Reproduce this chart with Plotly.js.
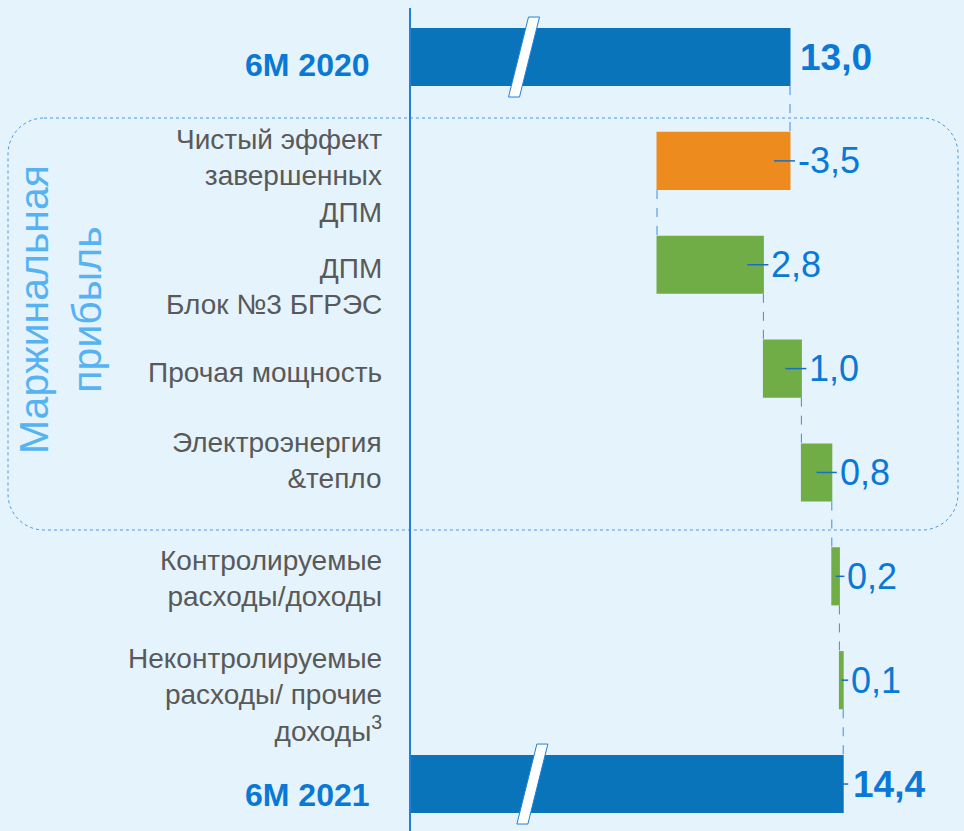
<!DOCTYPE html>
<html>
<head>
<meta charset="utf-8">
<script src="https://cdn.plot.ly/plotly-3.0.1.min.js"></script>
<style>html,body{margin:0;padding:0;background:#E5F3FC;}#chart{width:964px;height:831px;}</style>
</head>
<body>
<div id="chart"></div>
<script>
// ---- data ----
const categories = [
  '6M 2020',
  'Чистый эффект<br>завершенных<br>ДПМ',
  'ДПМ<br>Блок №3 БГРЭС',
  'Прочая мощность',
  'Электроэнергия<br>&тепло',
  'Контролируемые<br>расходы/доходы',
  'Неконтролируемые<br>расходы/ прочие<br>доходы<sup>3</sup>',
  '6M 2021'
];
const values = [13.0, -3.5, 2.8, 1.0, 0.8, 0.2, 0.1, 14.4];
const measures = ['absolute','relative','relative','relative','relative','relative','relative','total'];
const groupTitle = 'Маржинальная<br>прибыль';

// ---- layout constants ----
const W = 964, H = 831, L = 410;
const pxPerUnit = 38, x0 = 3.0;
const xMax = x0 + (W - L) / pxPerUnit;
const rowPx = 103.86, topIdx = -0.549;
const yMax = topIdx + H / rowPx;
const px2u = p => p / pxPerUnit;
const paperX = p => (p - L) / (W - L);
const paperY = p => 1 - p / H;

const C_TOTAL = '#0A74BB', C_UP = '#70AD47', C_DOWN = '#ED8B1E';
const C_BLUE = '#0A78D6', C_GREY = '#595959', C_LINE = '#1E80DC';
const FONT = '"Liberation Sans", Arial, sans-serif';

const ypos = categories.map((c, i) => i);

// running totals for labels
let cum = 0;
const rightEdge = [], leftEdge = [];
values.forEach((v, i) => {
  if (measures[i] === 'absolute') { cum = v; rightEdge.push(v); leftEdge.push(0); }
  else if (measures[i] === 'total') { rightEdge.push(cum); leftEdge.push(0); }
  else { const s = cum; cum = cum + v; rightEdge.push(Math.max(s, cum)); leftEdge.push(Math.min(s, cum)); }
});

const trace = {
  type: 'waterfall',
  orientation: 'h',
  y: ypos,
  x: values,
  measure: measures,
  width: 0.56,
  textinfo: 'none',
  hoverinfo: 'skip',
  increasing: {marker: {color: C_UP}},
  decreasing: {marker: {color: C_DOWN}},
  totals: {marker: {color: C_TOTAL}},
  connector: {mode: 'between', line: {color: '#3A8EE0', width: 1, dash: 'dash'}}
};

const labelShift = [8, 15, 22, 4, -12, 2, 15, 11];
const annotations = [];
const shapes = [];

// category labels
categories.forEach((c, i) => {
  const isTotal = measures[i] !== 'relative';
  annotations.push({
    xref: 'paper', yref: 'y', x: paperX(isTotal ? 372 : 384), y: ypos[i],
    xanchor: 'right', yanchor: 'middle', align: 'right', showarrow: false,
    yshift: -labelShift[i],
    text: isTotal ? '<b>' + c + '</b>' : c,
    font: {family: FONT, size: isTotal ? 32 : 28, color: isTotal ? C_BLUE : C_GREY}
  });
});

// value labels + leader lines
values.forEach((v, i) => {
  const isTotal = measures[i] !== 'relative';
  const val = isTotal ? rightEdge[i] : v;
  const txt = val.toFixed(1).replace('.', ',');
  annotations.push({
    xref: 'x', yref: 'y', x: rightEdge[i], y: ypos[i],
    xanchor: 'left', yanchor: 'middle', showarrow: false, xshift: isTotal ? 8 : 6,
    text: isTotal ? '<b>' + txt + '</b>' : txt,
    font: {family: FONT, size: isTotal ? 37 : 36, color: C_BLUE}
  });
  if (i > 0) {
    const center = (leftEdge[i] + rightEdge[i]) / 2;
    const start = (measures[i] === 'total') ? rightEdge[i] - px2u(17) : Math.max(center, rightEdge[i] - px2u(16));
    shapes.push({type: 'line', xref: 'x', yref: 'y', x0: start, x1: rightEdge[i] + px2u(5),
      y0: ypos[i], y1: ypos[i], line: {color: '#1670C2', width: 1.5}, layer: 'above'});
  }
});

// axis line
shapes.push({type: 'line', xref: 'paper', yref: 'paper', x0: 0, x1: 0, y0: paperY(8), y1: 0,
  line: {color: C_LINE, width: 2}, layer: 'above'});

// break marks on total bars
const breakAt = [6.0, 6.22];
[0, categories.length - 1].forEach((idx, k) => {
  const c = breakAt[k], h = 0.385, hw = px2u(5.5), sl = px2u(10);
  const yt = ypos[idx] - h, yb = ypos[idx] + h;
  const d = `M ${c - sl - hw},${yb} L ${c - sl + hw},${yb} L ${c + sl + hw},${yt} L ${c + sl - hw},${yt} Z`;
  shapes.push({type: 'path', xref: 'x', yref: 'y', path: d, fillcolor: '#FFFFFF',
    line: {color: C_LINE, width: 1}, layer: 'above'});
});

// rounded dotted group box
(function () {
  const x1 = 8, x2 = 958, y1 = 118, y2 = 530, r = 36, k = 0.5523 * r;
  const P = (x, y) => paperX(x) + ',' + paperY(y);
  const d = 'M ' + P(x1 + r, y1) + ' L ' + P(x2 - r, y1) +
    ' C ' + P(x2 - r + k, y1) + ' ' + P(x2, y1 + r - k) + ' ' + P(x2, y1 + r) +
    ' L ' + P(x2, y2 - r) +
    ' C ' + P(x2, y2 - r + k) + ' ' + P(x2 - r + k, y2) + ' ' + P(x2 - r, y2) +
    ' L ' + P(x1 + r, y2) +
    ' C ' + P(x1 + r - k, y2) + ' ' + P(x1, y2 - r + k) + ' ' + P(x1, y2 - r) +
    ' L ' + P(x1, y1 + r) +
    ' C ' + P(x1, y1 + r - k) + ' ' + P(x1 + r - k, y1) + ' ' + P(x1 + r, y1) + ' Z';
  shapes.push({type: 'path', xref: 'paper', yref: 'paper', path: d,
    line: {color: '#4A9BE0', width: 1, dash: 'dot'}, layer: 'below'});
})();

// group title (rotated)
annotations.push({
  xref: 'paper', yref: 'paper', x: paperX(60), y: paperY(310), xanchor: 'center', yanchor: 'middle',
  showarrow: false, textangle: -90, align: 'center', text: groupTitle,
  font: {family: FONT, size: 41, color: '#55B2F3'}
});

const layout = {
  width: W, height: H,
  margin: {l: L, r: 0, t: 0, b: 0, pad: 0},
  paper_bgcolor: '#E5F3FC', plot_bgcolor: '#E5F3FC',
  showlegend: false,
  xaxis: {range: [x0, xMax], showgrid: false, zeroline: false, showticklabels: false, showline: false, fixedrange: true},
  yaxis: {range: [yMax, topIdx], showgrid: false, zeroline: false, showticklabels: false, showline: false, fixedrange: true},
  shapes: shapes,
  annotations: annotations
};

Plotly.newPlot('chart', [trace], layout, {displayModeBar: false, staticPlot: true});
</script>
</body>
</html>
